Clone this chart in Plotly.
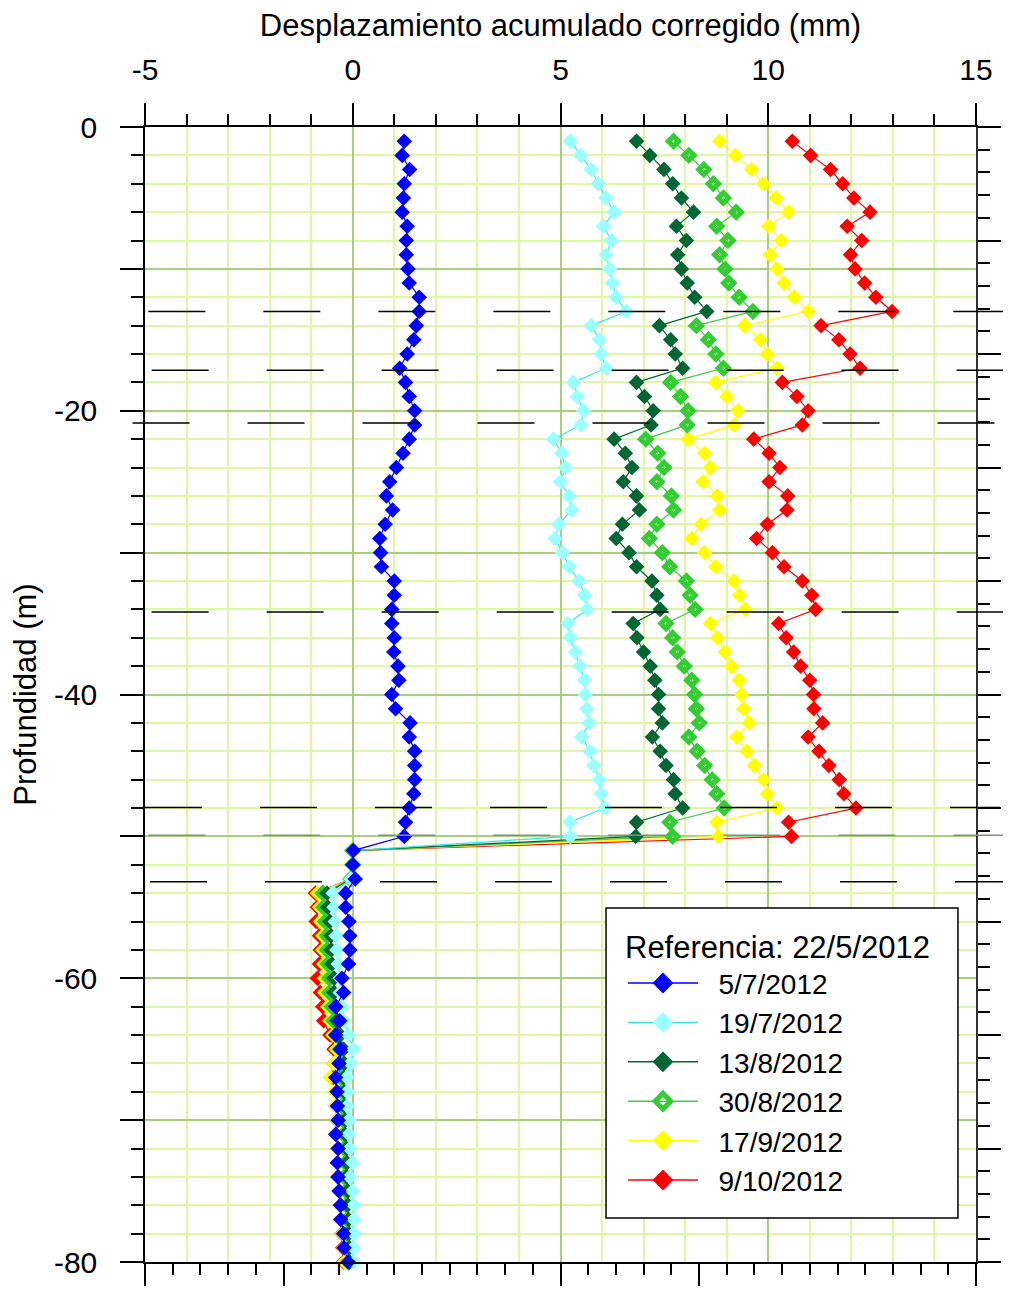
import plotly.graph_objects as go

# ---------------- data ----------------
profundidad = [-d for d in range(1, 81)]

fechas = ["5/7/2012", "19/7/2012", "13/8/2012", "30/8/2012", "17/9/2012", "9/10/2012"]
titulo_leyenda = "Referencia: 22/5/2012"

desp_0507 = [1.24, 1.19, 1.37, 1.24, 1.22, 1.19, 1.31, 1.29, 1.29, 1.33,
             1.36, 1.60, 1.60, 1.53, 1.47, 1.31, 1.13, 1.27, 1.36, 1.49,
             1.49, 1.36, 1.21, 1.05, 0.89, 0.81, 0.96, 0.78, 0.65, 0.67,
             0.69, 1.00, 1.00, 0.94, 0.94, 1.00, 0.99, 1.09, 1.11, 0.94,
             1.03, 1.38, 1.36, 1.49, 1.49, 1.49, 1.47, 1.36, 1.27, 1.24,
             0.01, 0.00, 0.06, -0.17, -0.17, -0.09, -0.07, -0.07, -0.10, -0.26,
             -0.22, -0.41, -0.31, -0.41, -0.30, -0.33, -0.41, -0.38, -0.37, -0.35,
             -0.41, -0.35, -0.37, -0.35, -0.33, -0.29, -0.29, -0.22, -0.21, -0.11]

desp_1907 = [5.24, 5.49, 5.74, 5.91, 6.10, 6.29, 6.03, 6.23, 6.10, 6.18,
             6.25, 6.34, 6.58, 5.74, 5.94, 5.98, 6.10, 5.31, 5.40, 5.56,
             5.49, 4.83, 5.03, 5.12, 5.00, 5.21, 5.27, 4.96, 4.87, 5.05,
             5.21, 5.45, 5.58, 5.64, 5.18, 5.24, 5.36, 5.47, 5.58, 5.60,
             5.63, 5.69, 5.51, 5.71, 5.80, 5.94, 5.98, 6.07, 5.23, 5.24,
             0.00, 0.00, -0.05, -0.47, -0.45, -0.42, -0.40, -0.38, -0.35, -0.30,
             -0.30, -0.25, -0.20, -0.10, 0.02, -0.05, -0.14, -0.13, -0.13, -0.09,
             -0.09, -0.07, 0.00, -0.07, 0.00, 0.03, 0.03, 0.03, 0.02, 0.03]

desp_1308 = [6.83, 7.15, 7.49, 7.70, 7.91, 8.20, 7.79, 8.03, 7.82, 7.91,
             8.05, 8.23, 8.52, 7.38, 7.65, 7.76, 7.94, 6.83, 7.02, 7.23,
             7.18, 6.29, 6.56, 6.72, 6.51, 6.83, 6.90, 6.49, 6.34, 6.65,
             6.83, 7.20, 7.32, 7.40, 6.75, 6.84, 7.00, 7.16, 7.27, 7.36,
             7.36, 7.45, 7.21, 7.40, 7.54, 7.72, 7.76, 7.94, 6.83, 6.81,
             0.00, 0.00, -0.05, -0.62, -0.60, -0.55, -0.52, -0.52, -0.50, -0.45,
             -0.45, -0.40, -0.38, -0.30, -0.22, -0.20, -0.22, -0.20, -0.20, -0.18,
             -0.18, -0.15, -0.14, -0.15, -0.12, -0.12, -0.10, -0.10, -0.08, -0.08]

desp_3008 = [7.72, 8.09, 8.45, 8.68, 8.92, 9.23, 8.76, 9.03, 8.83, 8.96,
             9.05, 9.30, 9.63, 8.27, 8.56, 8.74, 8.92, 7.65, 7.89, 8.07,
             8.05, 7.05, 7.34, 7.49, 7.32, 7.67, 7.72, 7.32, 7.14, 7.45,
             7.63, 8.03, 8.12, 8.24, 7.54, 7.70, 7.81, 7.98, 8.16, 8.23,
             8.27, 8.34, 8.09, 8.29, 8.47, 8.65, 8.76, 8.94, 7.63, 7.70,
             0.00, 0.00, -0.05, -0.72, -0.70, -0.66, -0.62, -0.62, -0.60, -0.56,
             -0.56, -0.50, -0.46, -0.38, -0.30, -0.25, -0.28, -0.25, -0.25, -0.22,
             -0.22, -0.20, -0.18, -0.20, -0.16, -0.15, -0.13, -0.13, -0.10, -0.10]

desp_1709 = [8.83, 9.21, 9.60, 9.89, 10.19, 10.49, 10.01, 10.31, 10.05, 10.21,
             10.38, 10.63, 10.96, 9.43, 9.81, 9.98, 10.21, 8.74, 9.00, 9.27,
             9.18, 8.07, 8.47, 8.61, 8.43, 8.78, 8.83, 8.38, 8.16, 8.47,
             8.74, 9.18, 9.31, 9.45, 8.61, 8.78, 8.96, 9.12, 9.30, 9.36,
             9.41, 9.54, 9.24, 9.49, 9.67, 9.89, 9.98, 10.21, 8.76, 8.80,
             0.00, 0.00, -0.05, -0.85, -0.80, -0.78, -0.72, -0.72, -0.70, -0.68,
             -0.68, -0.60, -0.55, -0.48, -0.40, -0.45, -0.55, -0.45, -0.40, -0.38,
             -0.38, -0.35, -0.33, -0.35, -0.30, -0.28, -0.25, -0.25, -0.22, -0.20]

desp_0910 = [10.58, 11.02, 11.50, 11.79, 12.06, 12.45, 11.90, 12.25, 11.98, 12.09,
             12.32, 12.59, 12.98, 11.27, 11.70, 11.97, 12.21, 10.34, 10.69, 10.96,
             10.82, 9.65, 10.02, 10.28, 10.02, 10.47, 10.45, 9.98, 9.72, 10.10,
             10.38, 10.82, 11.05, 11.14, 10.25, 10.43, 10.61, 10.78, 11.00, 11.09,
             11.10, 11.31, 10.96, 11.22, 11.46, 11.71, 11.82, 12.11, 10.49, 10.56,
             0.00, 0.00, -0.05, -0.90, -0.85, -0.88, -0.80, -0.78, -0.80, -0.85,
             -0.78, -0.72, -0.70, -0.55, -0.45, -0.45, -0.50, -0.42, -0.40, -0.38,
             -0.40, -0.36, -0.35, -0.36, -0.32, -0.30, -0.28, -0.26, -0.24, -0.22]

series = [desp_0507, desp_1907, desp_1308, desp_3008, desp_1709, desp_0910]

# depth of the horizontal (layer boundary) dashed lines
limites = [-13.0, -17.15, -20.87, -34.19, -47.97, -49.92, -53.19]

# tick values / labels
xtick_vals = [-5, 0, 5, 10, 15]
xtick_text = ["-5", "0", "5", "10", "15"]
ytick_vals = [0, -10, -20, -30, -40, -50, -60, -70, -80]
ytick_text = ["0", "", "-20", "", "-40", "", "-60", "", "-80"]

# ---------------- styles ----------------
FONT = "Liberation Sans, Arial, sans-serif"
LIGHT_GRID = "#dff7a3"
DARK_GRID = "#a8cf80"

line_colors = ["#0000FF", "#33E6E6", "#006633", "#4CC64C", "#FFFF00", "#FF0000"]
marker_colors = ["#0000FF", "#99FFFF", "#006633", "#33CC33", "#FFFF00", "#FF0000"]
symbols = ["diamond", "diamond", "diamond", "diamond-open", "diamond", "diamond"]

lim_x0 = [0.004, 0.008, -0.015, 0.008, 0.0, 0.004, 0.006]
lim_x1 = [1.043, 1.042, 1.025, 1.042, 1.029, 1.040, 1.040]
lim_color = ["black", "black", "black", "black", "black", "#7f8f7f", "black"]

fig = go.Figure()

def marker_for(i, size, open_size, open_width):
    if symbols[i] == "diamond-open":
        return dict(symbol=symbols[i], size=open_size, color=marker_colors[i],
                    line=dict(width=open_width, color=marker_colors[i]))
    return dict(symbol=symbols[i], size=size, color=marker_colors[i], line=dict(width=0))

# data traces, drawn last-to-first so that the blue series ends on top
for i in reversed(range(len(series))):
    fig.add_trace(go.Scatter(
        x=series[i], y=profundidad, mode="lines+markers", name=fechas[i],
        line=dict(color=line_colors[i], width=1.2),
        marker=marker_for(i, 12, 8, 5), showlegend=False, cliponaxis=False,
    ))

# legend entries
for i in range(len(series)):
    fig.add_trace(go.Scatter(
        x=[None], y=[None], mode="lines+markers", name="\u00a0\u00a0" + fechas[i],
        line=dict(color=line_colors[i], width=1.5),
        marker=marker_for(i, 17, 12, 5), legendgroup=fechas[i], showlegend=True,
    ))

# empty traces so that the secondary (tick-only) bottom and right axes are drawn
fig.add_trace(go.Scatter(x=[None], y=[None], xaxis="x2", yaxis="y",
                         showlegend=False, hoverinfo="skip"))
fig.add_trace(go.Scatter(x=[None], y=[None], xaxis="x", yaxis="y2",
                         showlegend=False, hoverinfo="skip"))

# dashed boundary lines
for k, d in enumerate(limites):
    fig.add_shape(type="line", xref="paper", yref="y", x0=lim_x0[k], x1=lim_x1[k],
                  y0=d, y1=d, line=dict(color=lim_color[k], width=1.5, dash="57px,58px"),
                  layer="above")

# legend frame
fig.add_shape(type="rect", xref="paper", yref="paper", x0=0.5548, x1=0.9783,
              y0=0.0388, y1=0.3119, line=dict(color="black", width=1.5),
              fillcolor="white", layer="above")

fig.update_layout(
    template="none",
    width=1003, height=1282,
    margin=dict(l=137, r=35, t=119, b=28, autoexpand=False),
    paper_bgcolor="white", plot_bgcolor="white",
    font=dict(family=FONT, size=30, color="black"),
    showlegend=True,
    legend=dict(
        x=0.5752, y=0.3031, xanchor="left", yanchor="top",
        bgcolor="rgba(0,0,0,0)", borderwidth=0,
        font=dict(size=28, family=FONT), itemwidth=70, tracegroupgap=4,
        title=dict(text=titulo_leyenda, font=dict(size=31, family=FONT)),
        traceorder="normal",
    ),
    xaxis=dict(
        range=[-5, 15], side="top", tickmode="array", tickvals=xtick_vals, ticktext=xtick_text,
        ticks="outside", ticklen=22, tickwidth=1.5, tickcolor="black", ticklabelstandoff=11,
        showline=True, linecolor="black", linewidth=1.5,
        showgrid=True, gridcolor=DARK_GRID, gridwidth=1.5, zeroline=False,
        tickfont=dict(size=30), automargin=False,
        minor=dict(tickmode="linear", tick0=0, dtick=1, ticks="outside", ticklen=11, tickwidth=1.5,
                   tickcolor="black", showgrid=True, gridcolor=LIGHT_GRID, gridwidth=1.5),
        title=dict(text="Desplazamiento acumulado corregido (mm)", font=dict(size=31), standoff=14),
    ),
    yaxis=dict(
        range=[-80, 0], tickmode="array", tickvals=ytick_vals, ticktext=ytick_text,
        ticks="outside", ticklen=23, tickwidth=1.5, tickcolor="black", ticklabelstandoff=17,
        showline=True, linecolor="black", linewidth=1.5,
        showgrid=True, gridcolor=DARK_GRID, gridwidth=1.5, zeroline=False,
        tickfont=dict(size=30), automargin=False,
        minor=dict(tickmode="linear", tick0=0, dtick=2, ticks="outside", ticklen=12, tickwidth=1.5,
                   tickcolor="black", showgrid=True, gridcolor=LIGHT_GRID, gridwidth=1.5),
        title=dict(text="Profundidad (m)", font=dict(size=31), standoff=11),
    ),
    xaxis2=dict(
        overlaying="x", side="bottom", anchor="y", range=[0, 30],
        tickmode="array", tickvals=[0, 5, 15, 20, 30], showticklabels=False,
        ticks="outside", ticklen=22, tickwidth=1.5, tickcolor="black",
        minor=dict(tickmode="linear", tick0=0, dtick=1, ticks="outside", ticklen=11,
                   tickwidth=1.5, tickcolor="black", showgrid=False),
        showgrid=False, showline=True, linecolor="black", linewidth=1.5, zeroline=False,
        automargin=False, fixedrange=True,
    ),
    yaxis2=dict(
        overlaying="y", side="right", anchor="x", range=[-50, 0],
        tickmode="linear", tick0=0, dtick=5, showticklabels=False,
        ticks="outside", ticklen=23, tickwidth=1.5, tickcolor="black",
        minor=dict(tickmode="linear", tick0=0, dtick=1, ticks="outside", ticklen=12,
                   tickwidth=1.5, tickcolor="black", showgrid=False),
        showgrid=False, showline=True, linecolor="#2b332b", linewidth=2, zeroline=False,
        automargin=False, fixedrange=True,
    ),
)

fig.write_html("out.html")
